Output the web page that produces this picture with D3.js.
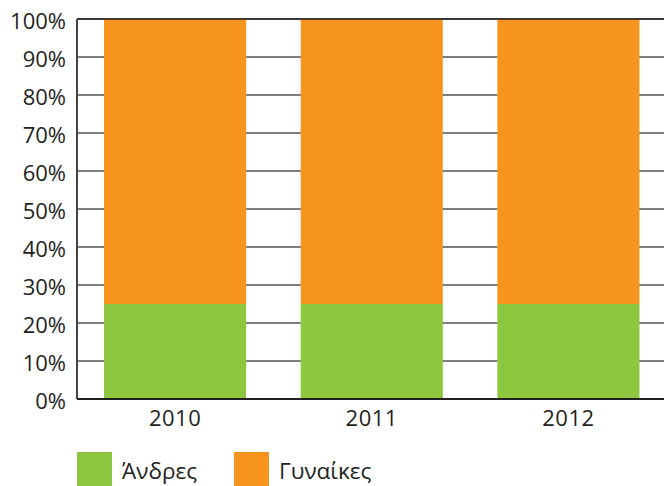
<!DOCTYPE html>
<html><head><meta charset="utf-8">
<script src="https://cdn.jsdelivr.net/npm/d3@7/dist/d3.min.js"></script>
<style>body{margin:0;background:#fff}svg{display:block}text{font-family:"Open Sans",sans-serif;fill:#231f20}</style>
</head><body>
<script>
const categories = ["2010","2011","2012"];
const seriesNames = ["Άνδρες","Γυναίκες"];
const men = [25,25,25];
const women = [75,75,75];
const yTicks = [0,10,20,30,40,50,60,70,80,90,100];
const colors = ["#8dc63f","#f7941d"];

const W=664,H=486;
const svg=d3.select("body").append("svg").attr("width",W).attr("height",H);
const x0=77, plotTop=19, plotBottom=399;
const x=d3.scaleBand().domain(categories).range([x0,x0+589.5]).paddingInner(54.5/196.5).paddingOuter(27/196.5);
const y=d3.scaleLinear().domain([0,100]).range([plotBottom,plotTop]);

const data=categories.map((c,i)=>({cat:c,vals:[men[i],women[i]]}));
const stack=d3.stack().keys([0,1]).value((d,k)=>d.vals[k]);
const layers=stack(data);

// gridlines
svg.append("g").selectAll("line").data(yTicks.filter(t=>t>0)).join("line")
  .attr("x1",x0).attr("x2",W).attr("y1",d=>y(d)).attr("y2",d=>y(d))
  .attr("stroke","#555").attr("stroke-width",1.5);

// bars
svg.append("g").selectAll("g").data(layers).join("g").attr("fill",(d,i)=>colors[i])
  .selectAll("rect").data(d=>d).join("rect")
  .attr("x",d=>x(d.data.cat)).attr("width",x.bandwidth())
  .attr("y",d=>y(d[1])).attr("height",d=>y(d[0])-y(d[1]));

// top line over bars
svg.append("line").attr("x1",x0).attr("x2",W).attr("y1",y(100)).attr("y2",y(100))
  .attr("stroke","#231f20").attr("stroke-width",1.5);

// axes lines
svg.append("line").attr("x1",x0).attr("x2",x0).attr("y1",plotTop).attr("y2",plotBottom)
  .attr("stroke","#444").attr("stroke-width",2);
svg.append("line").attr("x1",x0).attr("x2",W).attr("y1",plotBottom).attr("y2",plotBottom)
  .attr("stroke","#231f20").attr("stroke-width",2);

// y labels
const yAxis=d3.axisLeft(y).tickValues(yTicks).tickFormat(d=>d+"%").tickSize(0).tickPadding(11);
const ya=svg.append("g").attr("transform",`translate(${x0},0)`).call(yAxis);
ya.select(".domain").remove();
ya.selectAll("text").attr("font-size",22).attr("font-family","Open Sans, sans-serif").attr("fill","#231f20").attr("dy","0.42em");

// x labels
const xAxis=d3.axisBottom(x).tickSize(0).tickPadding(11);
const xa=svg.append("g").attr("transform",`translate(0,${plotBottom})`).call(xAxis);
xa.select(".domain").remove();
xa.selectAll("text").attr("font-size",22).attr("letter-spacing","0.5px").attr("font-family","Open Sans, sans-serif").attr("fill","#231f20").attr("dy","0.71em");

// legend
const legX=[77,234];
const lg=svg.append("g").selectAll("g").data(seriesNames).join("g")
  .attr("transform",(d,i)=>`translate(${legX[i]},452)`);
lg.append("rect").attr("width",35).attr("height",35).attr("fill",(d,i)=>colors[i]);
lg.append("text").attr("x",45).attr("y",27).attr("font-size",22.5).text(d=>d);
</script>
</body></html>
